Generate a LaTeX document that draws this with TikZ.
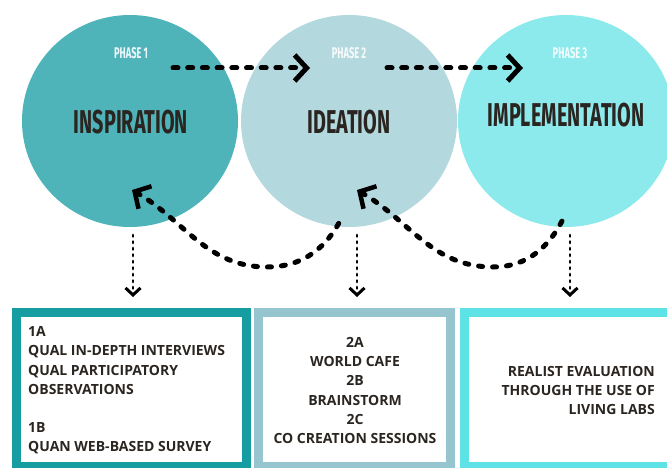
\documentclass[tikz,border=0pt]{standalone}
\usepackage{fontspec}
\setmainfont{Open Sans}
\newfontfamily\phasefont[FakeStretch=0.6]{Fira Sans}
\usetikzlibrary{arrows.meta, shapes.geometric}
\definecolor{inspfill}{HTML}{4FB4BA}
\definecolor{ideafill}{HTML}{B3D8DE}
\definecolor{implfill}{HTML}{8DEAEC}
\definecolor{inspline}{HTML}{159DA2}
\definecolor{idealine}{HTML}{95C6CF}
\definecolor{implline}{HTML}{5DE2E6}
\definecolor{inktext}{HTML}{2A2520}

\tikzset{
  phasecircle/.style={ellipse, minimum width=216, minimum height=212, inner sep=0},
  phaselabel/.style={text=white, text opacity=0.9, font=\phasefont\bfseries\fontsize{15.5}{15.5}\selectfont},
  phasetitle/.style={text=inktext, font=\phasefont\bfseries\fontsize{33}{33}\selectfont},
  methodbox/.style={line width=9},
  methodtext/.style={text=inktext, inner sep=0, font=\bfseries\fontsize{14}{19.2}\selectfont},
  bigdots/.style={line width=5, line cap=round, dash pattern=on 5pt off 9.7pt,
    -{Straight Barb[length=12pt, width=26pt, line width=5pt]}},
  backdash/.style={line width=5, line cap=round, dash pattern=on 4pt off 10pt,
    {Straight Barb[length=12pt, width=26pt, line width=4.5pt]}-},
  smalldots/.style={line width=2.8, line cap=round, dash pattern=on 1.5pt off 5pt,
    -{Straight Barb[length=7pt, width=15pt, line width=3pt]}},
}

\begin{document}
\begin{tikzpicture}[x=1pt, y=1pt]
    \useasboundingbox (0,0) rectangle (667,467);

    % --- The three phases ---
    \node[phasecircle, fill=inspfill] (insp) at (130,346) {};
    \node[phasecircle, fill=ideafill] (idea) at (349,346) {};
    \node[phasecircle, fill=implfill] (impl) at (566,346) {};

    \node[phaselabel] (p1) at (131,414) {PHASE 1};
    \node[phaselabel] (p2) at (349,414) {PHASE 2};
    \node[phaselabel] (p3) at (570,414) {PHASE 3};

    \node[phasetitle] (t1) at (131,345) {INSPIRATION};
    \node[phasetitle] (t2) at (349,345) {IDEATION};
    \node[phasetitle] (t3) at (566,352) {IMPLEMENTATION};

    % --- Forward arrows ---
    \coordinate (f1s) at (173,399);
    \coordinate (f1e) at (310,399);
    \coordinate (f2s) at (387,399);
    \coordinate (f2e) at (523,399);
    \draw[bigdots] (f1s) -- (f1e);
    \draw[bigdots] (f2s) -- (f2e);

    % --- Feedback arrows ---
    \coordinate (b1tip) at (132,277);
    \coordinate (b1low) at (267,200);
    \coordinate (b1end) at (343,252);
    \coordinate (b2tip) at (357,277);
    \coordinate (b2low) at (493,200);
    \coordinate (b2end) at (565,252);
    \draw[backdash] (b1tip) to[out=-30, in=180] (b1low) to[out=0, in=-115] (b1end);
    \draw[backdash] (b2tip) to[out=-30, in=180] (b2low) to[out=0, in=-115] (b2end);

    % --- Down arrows to the methods ---
    \coordinate (d1s) at (133,232);
    \coordinate (d1e) at (133,170);
    \coordinate (d2s) at (357,232);
    \coordinate (d2e) at (357,170);
    \coordinate (d3s) at (570,232);
    \coordinate (d3e) at (570,170);
    \draw[smalldots] (d1s) -- (d1e);
    \draw[smalldots] (d2s) -- (d2e);
    \draw[smalldots] (d3s) -- (d3e);

    % --- Method boxes ---
    \draw[methodbox, draw=inspline] (16.5,0.5) rectangle (246.5,154.5);
    \draw[methodbox, draw=idealine] (258.5,0.5) rectangle (450.5,154.5);
    \draw[methodbox, draw=implline] (464.5,0.5) rectangle (680,154.5);

    \node[methodtext, align=left, anchor=west] (m1) at (28,76.5)
        {1A\\QUAL IN-DEPTH INTERVIEWS\\QUAL PARTICIPATORY\\OBSERVATIONS\\[19.2pt]1B\\QUAN WEB-BASED SURVEY};
    \node[methodtext, align=center] (m2) at (355,76.5)
        {2A\\WORLD CAFE\\2B\\BRAINSTORM\\2C\\CO CREATION SESSIONS};
    \node[methodtext, align=right, anchor=east] (m3) at (655,76.5)
        {REALIST EVALUATION\\THROUGH THE USE OF\\LIVING LABS};

\end{tikzpicture}
\end{document}
